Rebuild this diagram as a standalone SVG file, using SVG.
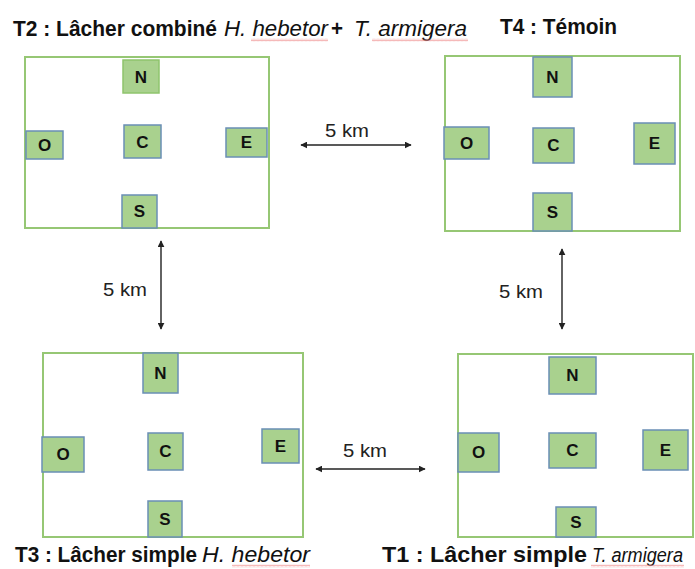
<svg xmlns="http://www.w3.org/2000/svg" width="695" height="569" viewBox="0 0 695 569">
<style>
.title{font-family:"Liberation Sans",Arial,sans-serif;font-weight:bold;font-size:21.5px;fill:#111}
.it{font-style:italic;font-weight:normal}
.field{fill:#fff;stroke:#96c774;stroke-width:2}
.box{fill:#a9d18e;stroke:#6a8fb5;stroke-width:1.5}
.boxg{fill:#a9d18e;stroke:#8fc46c;stroke-width:1.5}
.lbl{font-family:"Liberation Sans",Arial,sans-serif;font-weight:bold;font-size:17px;fill:#111;text-anchor:middle;dominant-baseline:central}
.km{font-family:"Liberation Sans",Arial,sans-serif;font-size:19px;fill:#222}
.arr{stroke:#222;stroke-width:1.4;fill:none;marker-start:url(#ah);marker-end:url(#ah)}
.sq{fill:url(#wave)}
</style>
<defs>
<marker id="ah" viewBox="0 0 10 10" refX="9" refY="5" markerWidth="7" markerHeight="7" orient="auto-start-reverse" markerUnits="userSpaceOnUse">
<path d="M0,0 L10,5 L0,10 z" fill="#222"/>
</marker>
<pattern id="wave" width="4" height="3" patternUnits="userSpaceOnUse">
<path d="M0,2.5 L1,0.5 L2,2.5 L3,0.5 L4,2.5" stroke="#ee8a8a" stroke-width="0.6" fill="none"/>
</pattern>
</defs>

<g id="titles">
<text class="title" x="13" y="36" textLength="204" lengthAdjust="spacingAndGlyphs">T2 : Lâcher combiné</text>
<text class="title it" x="224" y="36" textLength="104" lengthAdjust="spacingAndGlyphs">H. hebetor</text>
<text class="title" x="331" y="36" textLength="12" lengthAdjust="spacingAndGlyphs">+</text>
<text class="title it" x="354" y="36" textLength="113" lengthAdjust="spacingAndGlyphs">T. armigera</text>
<text class="title" x="500" y="34" textLength="117" lengthAdjust="spacingAndGlyphs">T4 : Témoin</text>
<text class="title" x="15" y="562" textLength="182" lengthAdjust="spacingAndGlyphs">T3 : Lâcher simple</text>
<text class="title it" x="202" y="562" textLength="108" lengthAdjust="spacingAndGlyphs">H. hebetor</text>
<text class="title" x="382" y="562" textLength="205" lengthAdjust="spacingAndGlyphs">T1 : Lâcher simple</text>
<text class="title it" x="592" y="562" style="font-size:20px" textLength="91" lengthAdjust="spacingAndGlyphs">T. armigera</text>
<rect class="sq" x="251" y="38.5" width="77" height="3"/>
<rect class="sq" x="372" y="38.5" width="96" height="3"/>
<rect class="sq" x="232" y="564.5" width="78" height="3"/>
<rect class="sq" x="591" y="564.5" width="93" height="3"/>
</g>

<g id="T2">
<rect class="field" x="25" y="57" width="244" height="171"/>
<rect class="boxg" x="123" y="60" width="36" height="33"/><text class="lbl" x="141" y="77">N</text>
<rect class="box" x="124" y="125" width="37" height="33"/><text class="lbl" x="142.5" y="142">C</text>
<rect class="box" x="26" y="131" width="37" height="28"/><text class="lbl" x="44.5" y="145">O</text>
<rect class="box" x="226" y="128" width="41" height="29"/><text class="lbl" x="246.5" y="142.5">E</text>
<rect class="box" x="122" y="195" width="35" height="33"/><text class="lbl" x="139.5" y="211.5">S</text>
</g>

<g id="T4">
<rect class="field" x="445" y="56" width="235" height="175"/>
<rect class="box" x="533" y="57" width="39" height="40"/><text class="lbl" x="552.5" y="77">N</text>
<rect class="box" x="444" y="127" width="45" height="32"/><text class="lbl" x="466.5" y="143">O</text>
<rect class="box" x="533" y="128" width="41" height="35"/><text class="lbl" x="553.5" y="145.5">C</text>
<rect class="box" x="634" y="123" width="41" height="41"/><text class="lbl" x="654.5" y="143.5">E</text>
<rect class="box" x="533" y="193" width="39" height="38"/><text class="lbl" x="552.5" y="212">S</text>
</g>

<g id="T3">
<rect class="field" x="43" y="353" width="260" height="184"/>
<rect class="box" x="143" y="353" width="35" height="40"/><text class="lbl" x="160.5" y="373">N</text>
<rect class="box" x="42" y="437" width="42" height="35"/><text class="lbl" x="63" y="454.5">O</text>
<rect class="box" x="148" y="433" width="35" height="37"/><text class="lbl" x="165.5" y="451.5">C</text>
<rect class="box" x="262" y="429" width="37" height="34"/><text class="lbl" x="280.5" y="446">E</text>
<rect class="box" x="148" y="501" width="34" height="36"/><text class="lbl" x="165" y="519">S</text>
</g>

<g id="T1">
<rect class="field" x="458" y="354" width="235" height="183"/>
<rect class="box" x="549" y="357" width="47" height="37"/><text class="lbl" x="572.5" y="375.5">N</text>
<rect class="box" x="458" y="433" width="41" height="39"/><text class="lbl" x="478.5" y="452.5">O</text>
<rect class="box" x="549" y="433" width="47" height="35"/><text class="lbl" x="572.5" y="450.5">C</text>
<rect class="box" x="643" y="430" width="45" height="40"/><text class="lbl" x="665.5" y="450">E</text>
<rect class="box" x="556" y="507" width="40" height="30"/><text class="lbl" x="576" y="522">S</text>
</g>

<g id="connectors">
<line class="arr" x1="301" y1="145" x2="411" y2="145"/>
<text class="km" x="325" y="137" textLength="44" lengthAdjust="spacingAndGlyphs">5 km</text>
<line class="arr" x1="161" y1="241" x2="161" y2="329"/>
<text class="km" x="103" y="296" textLength="44" lengthAdjust="spacingAndGlyphs">5 km</text>
<line class="arr" x1="562" y1="249" x2="562" y2="329"/>
<text class="km" x="499" y="298" textLength="44" lengthAdjust="spacingAndGlyphs">5 km</text>
<line class="arr" x1="316" y1="469" x2="425" y2="469"/>
<text class="km" x="343" y="457" textLength="44" lengthAdjust="spacingAndGlyphs">5 km</text>
</g>
</svg>
